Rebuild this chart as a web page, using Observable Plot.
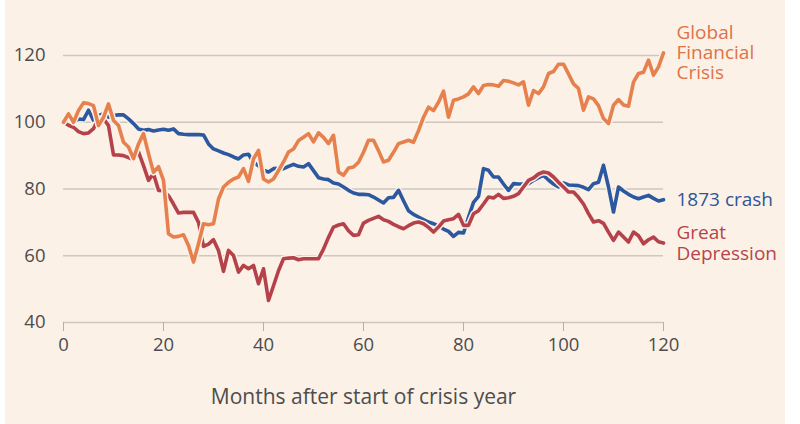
<!DOCTYPE html>
<html><head><meta charset="utf-8">
<script src="https://cdn.jsdelivr.net/npm/d3@7"></script>
<script src="https://cdn.jsdelivr.net/npm/@observablehq/plot@0.6"></script>
<style>
html,body{margin:0;padding:0;background:#fff;}
#bg{position:absolute;left:5px;top:0;width:780px;height:424px;background:#fbf1e7;}
#chart{position:absolute;left:0;top:0;}
#chart g[aria-label="x-axis label"] text{font-size:21px;}
</style></head><body><div id="bg"></div><div id="chart"></div>
<script>
const months = d3.range(0, 121);
const xTicks = [0, 20, 40, 60, 80, 100, 120];
const yTicks = [40, 60, 80, 100, 120];
const seriesNames = ["1873 crash", "Great Depression", "Global Financial Crisis"];
const labelTexts = ["1873 crash", "Great\nDepression", "Global\nFinancial\nCrisis"];
const colors = ["#2c58a0", "#b5414a", "#e6814e"];
const textColors = ["#2d5699", "#b8434a", "#df7248"];

const crash1873 = [100,101.5,100,101,100.8,103.6,100.5,102,102.6,101.5,102,102.2,102.2,101,99.6,98,97.6,97.8,97.4,97.7,
97.9,97.6,98,96.6,96.4,96.3,96.3,96.3,96.2,93.5,92,91.4,90.8,90.3,89.6,89,90.2,90.4,88,87,
85.6,85.1,86.1,86.2,86.1,86.8,87.4,86.8,86.6,87.6,85.5,83.4,83,82.8,81.8,81.5,80.6,79.6,78.8,78.4,
78.4,78.3,77.6,76.7,75.8,77.4,77.5,79.6,76.5,73.5,72.4,71.6,70.8,70.1,69.6,68.9,68,67.3,65.8,67,
66.8,71.5,76,77.8,86.1,85.6,83.6,83.6,81.5,79.6,81.6,81.5,81.5,81.6,82.6,83.4,84.1,82.7,81.5,80.6,
81.8,81.2,81.1,81,80.5,79.8,81.6,82,87.1,80.6,73.1,80.6,79.4,78.4,77.6,77.1,77.6,78.1,77.2,76.4,76.8];

const depression = [100,99.1,98.5,97.2,96.6,96.8,98.1,101.1,101.1,99,90.2,90.2,90,89.4,88.8,91.1,87,82.6,84.6,79.6,
79.5,78,75.5,72.8,73,73,73,70,62.8,63.5,64.8,61.6,55.3,61.6,60.1,55.1,57.1,56.1,57.1,51.6,
56.1,46.6,51,55.5,59.1,59.3,59.4,58.8,59.1,59.1,59.1,59.1,62,65.5,68.6,69.2,69.6,67.5,66.1,66.3,
69.8,70.6,71.2,71.8,70.8,70.3,69.4,68.7,68.1,69,69.8,70.1,69.6,68.5,67.1,68.6,70.4,70.8,71.1,72.4,
69.1,69.1,72.6,73.5,75.5,77.6,77.3,78.4,77.2,77.4,77.8,78.6,80.6,82.6,83.3,84.5,85.1,84.8,83.6,82,
80.6,79.1,79.1,77.5,75.5,72.6,70.1,70.5,69.7,67.1,64.6,67.1,65.6,64.1,67.1,66,63.6,64.8,65.6,64.2,63.8];

const gfc = [100,102.5,100,103.5,105.8,105.6,105,99,101.5,105.5,100.5,99,94,92.6,89.1,93.5,96.6,90.6,85,86.7,
82.6,66.6,65.6,65.8,66.3,63.1,58.1,63.6,69.6,69.3,69.6,77,80.6,82,83,83.6,86.1,82.3,89,91.6,
83,82.1,83,85.5,88.1,91.1,92,94.5,95.5,96.6,94.1,96.8,95.5,93.6,96.1,85.1,84.1,86.3,86.6,88,
91,94.6,94.6,91.5,88.1,88.6,91,93.6,94.1,94.6,94,97.5,101.5,104.5,103.5,106,109.3,101.5,106.6,107,
107.6,108.5,110.6,108.6,111,111.3,111.2,110.8,112.5,112.3,111.8,111.2,112.1,105.1,109.5,108.6,110.6,114.6,115.2,117.4,
117.4,114.5,111.5,110.1,103.6,107.6,107,105,101.1,99.6,105.1,106.8,105.2,104.8,112,114.6,115,118.6,114.1,116.6,120.8];

const valuesList = [crash1873, depression, gfc];
const rows = valuesList.flatMap((vals, i) => vals.map((v, j) => ({month: months[j], value: v, series: seriesNames[i]})));
const labels = valuesList.map((vals, i) => ({month: months[months.length - 1], value: vals[vals.length - 1], text: labelTexts[i], color: textColors[i]}));

const bg = "#fbf1e7";
const lineMarks = seriesNames.flatMap((s, i) => {
  const d = rows.filter(r => r.series === s);
  return [
    Plot.line(d, {x: "month", y: "value", stroke: bg, strokeWidth: 6.5, strokeLinejoin: "round", curve: "linear"}),
    Plot.line(d, {x: "month", y: "value", stroke: colors[i], strokeWidth: 3.6, strokeLinejoin: "round", curve: "linear"})
  ];
});

const chart = Plot.plot({
  width: 800,
  height: 424,
  marginLeft: 63,
  marginRight: 137,
  marginTop: 55,
  marginBottom: 102,
  style: {fontFamily: "'Open Sans', sans-serif", fontSize: "18.5px", background: "transparent", color: "#4d4d4d", overflow: "visible"},
  x: {domain: [0, 120]},
  y: {domain: [40, 120]},
  marks: [
    Plot.gridY(yTicks, {stroke: "#cdc7c0", strokeOpacity: 1, strokeWidth: 1.3}),
    Plot.axisY(yTicks, {tickSize: 0, tickPadding: 18, label: null, fill: "#4d4d4d", fontSize: 18.5}),
    Plot.axisX(xTicks, {tickSize: 9, tickPadding: 6, stroke: "#b5b0aa", fill: "#4d4d4d", fontSize: 18.5,
      label: "Months after start of crisis year", labelAnchor: "center", labelArrow: "none", labelOffset: 81}),
    ...lineMarks,
    Plot.text(labels, {x: "month", y: "value", text: "text", fill: "color", dx: 13, textAnchor: "start", lineAnchor: "middle", fontSize: 19, lineHeight: 1.06})
  ]
});
document.getElementById("chart").appendChild(chart);
</script></body></html>
